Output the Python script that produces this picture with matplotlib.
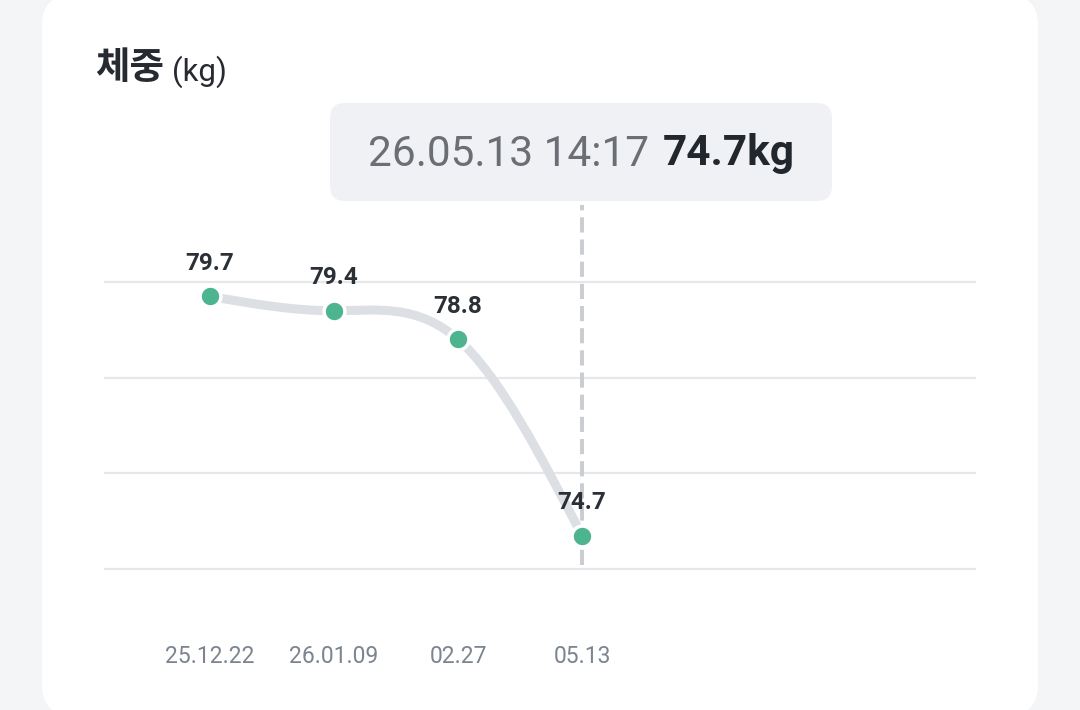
import numpy as np
import matplotlib
matplotlib.use("Agg")
import matplotlib.pyplot as plt
from matplotlib.patches import FancyBboxPatch, PathPatch
from matplotlib.path import Path

dates = ["25.12.22", "26.01.09", "02.27", "05.13"]
weights = [79.7, 79.4, 78.8, 74.7]
grid_values = [74, 76, 78, 80]
title_main = "체중"
title_unit = "(kg)"
tip_time = "26.05.13 14:17"
tip_value = "74.7kg"

plt.rcParams["font.family"] = ["Roboto", "Noto Sans CJK KR", "DejaVu Sans"]

W, H = 1080, 710
fig = plt.figure(figsize=(W / 100, H / 100), dpi=100)
fig.patch.set_facecolor("#f4f5f7")

# white card
card = FancyBboxPatch((42 / W, -5 / H), 996 / W, 720 / H,
                      boxstyle="round,pad=0,rounding_size=0.028",
                      transform=fig.transFigure, facecolor="white",
                      edgecolor="none", mutation_aspect=W / H, zorder=-2)
fig.patches.append(card)

fig.text(95 / W, 1 - 68 / H, title_main, fontsize=27, fontweight="bold",
         color="#262a31", va="center", ha="left",
         family=["Noto Sans CJK KR", "DejaVu Sans"])
fig.text(172 / W, 1 - 72 / H, title_unit, fontsize=22.5, color="#262a31",
         va="center", ha="left")

ax = fig.add_axes([105 / W, (H - 569) / H, 870 / W, 364 / H])
ax.set_zorder(1)
ax.set_facecolor("none")
ax.set_xlim(-0.847, 6.169)
ax.set_ylim(74, 74 + 364 / 47.83)
for s in ax.spines.values():
    s.set_visible(False)
ax.set_xticks([])
ax.set_yticks([])

for g in grid_values:
    ax.axhline(g, color="#e5e7ea", linewidth=1.6, zorder=1, clip_on=False)

x = np.arange(len(weights))
y = np.array(weights)

# natural cubic spline drawn as bezier segments
n = len(y)
A = np.zeros((n, n))
b = np.zeros(n)
A[0, 0] = A[-1, -1] = 1
for i in range(1, n - 1):
    A[i, i - 1], A[i, i], A[i, i + 1] = 1, 4, 1
    b[i] = 6 * (y[i - 1] - 2 * y[i] + y[i + 1])
M = np.linalg.solve(A, b)
verts = [(x[0], y[0])]
codes = [Path.MOVETO]
for i in range(n - 1):
    m0 = (y[i + 1] - y[i]) - (2 * M[i] + M[i + 1]) / 6
    m1 = (y[i + 1] - y[i]) + (M[i] + 2 * M[i + 1]) / 6
    verts += [(x[i] + 1 / 3, y[i] + m0 / 3), (x[i + 1] - 1 / 3, y[i + 1] - m1 / 3),
              (x[i + 1], y[i + 1])]
    codes += [Path.CURVE4] * 3
curve = PathPatch(Path(verts, codes), fill=False, edgecolor="#dcdfe3",
                  linewidth=6.5, capstyle="round", joinstyle="round", zorder=2)
ax.add_patch(curve)

ax.axvline(x[-1], ymin=0.012, ymax=1, color="#c9ccd1", linewidth=2.8,
           dashes=(3.9, 1.8), zorder=1.5)

ax.plot(x, y, "o", markersize=15, markerfacecolor="#4cb48f",
        markeredgecolor="white", markeredgewidth=2.5, zorder=3, clip_on=False)

for xi, yi in zip(x, y):
    ax.annotate(f"{yi:.1f}", (xi, yi), xytext=(0, 24), textcoords="offset points",
                ha="center", va="center", fontsize=17.5, fontweight="bold",
                color="#2b2f36", zorder=4)
    ax.annotate(dates[xi], (xi, 74), xytext=(0, -63), textcoords="offset points",
                ha="center", va="center", fontsize=16.5, color="#7c8490",
                annotation_clip=False)

# tooltip
tip = FancyBboxPatch((330 / W, 1 - 201 / H), 502 / W, 98 / H,
                     boxstyle="round,pad=0,rounding_size=0.014",
                     transform=fig.transFigure, facecolor="#f0f1f4",
                     edgecolor="none", mutation_aspect=W / H, zorder=-1)
fig.patches.append(tip)
fig.text(368 / W, 1 - 154 / H, tip_time, fontsize=30.5, color="#6b6f75",
         va="center", ha="left")
fig.text(795 / W, 1 - 154 / H, tip_value, fontsize=30.5, fontweight="bold",
         color="#22262d", va="center", ha="right")

fig.savefig("out.png", dpi=100, facecolor=fig.get_facecolor())
